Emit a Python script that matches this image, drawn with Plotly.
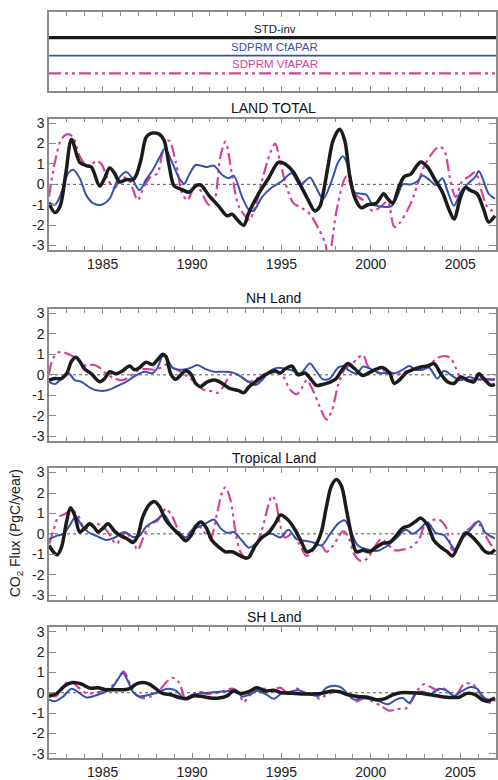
import plotly.graph_objects as go

# ---------------- data (years, CO2 flux PgC/yr) ----------------
# LAND TOTAL
lt_std_t = [1982.0,1982.33,1982.61,1982.95,1983.26,1983.72,1984.09,1984.37,1984.83,1985.11,1985.39,1985.67,1985.94,1986.31,1986.69,1986.87,1987.15,1987.43,1987.70,1988.17,1988.44,1988.72,1989.0,1989.37,1989.83,1990.2,1990.48,1990.94,1991.5,1991.96,1992.24,1992.52,1992.89,1993.17,1993.72,1994.28,1994.83,1995.2,1995.67,1996.13,1996.5,1996.87,1997.15,1997.33,1997.61,1997.89,1998.26,1998.54,1998.81,1999.09,1999.46,1999.83,2000.3,2000.72,2000.94,2001.22,2001.59,2001.87,2002.24,2002.52,2002.8,2003.17,2003.54,2004.0,2004.37,2004.65,2005.02,2005.3,2005.57,2005.94,2006.31,2006.59,2006.94]
lt_std_v = [-0.92,-1.38,-1.1,0.6,2.2,1.08,0.92,0.85,-0.08,0.3,0.8,0.54,0.12,0.23,0.23,0.43,1.23,2.3,2.5,2.46,2.15,0.92,-0.08,-0.23,-0.38,-0.08,-0.03,-0.54,-1.08,-1.54,-1.46,-1.72,-2.0,-1.4,-0.46,0.3,1.08,1.0,0.6,-0.15,-0.77,-1.3,-1.08,-0.46,0.92,2.15,2.7,2.15,0.46,-0.62,-1.15,-1.0,-0.92,-0.46,-0.7,-0.92,-0.08,0.38,0.5,0.85,1.1,0.85,0.3,-0.38,-1.23,-1.7,-0.62,-0.15,-0.3,-0.46,-1.23,-1.85,-1.54]
lt_cf_t = [1982.0,1982.33,1982.61,1983.07,1983.35,1983.72,1984.09,1984.46,1984.93,1985.39,1985.85,1986.31,1986.59,1987.06,1987.43,1987.8,1988.17,1988.48,1988.81,1989.28,1989.56,1989.83,1990.2,1990.48,1990.85,1991.22,1991.69,1992.06,1992.33,1992.8,1993.17,1993.44,1993.91,1994.46,1995.02,1995.57,1996.04,1996.59,1996.87,1997.33,1997.8,1998.17,1998.44,1998.72,1999.09,1999.46,1999.74,2000.11,2000.57,2001.13,2001.5,2001.78,2002.24,2002.61,2002.89,2003.26,2003.63,2004.0,2004.28,2004.65,2005.02,2005.39,2005.85,2006.04,2006.31,2006.59,2006.94]
lt_cf_v = [-0.9,-1.0,-0.6,0.54,0.72,0.3,-0.54,-0.92,-1.0,-0.7,0.23,0.6,0.38,-0.28,0.23,0.7,1.3,1.74,1.23,0.3,0.03,0.46,0.95,0.92,0.85,0.92,0.46,0.3,0.43,-0.62,-1.23,-1.3,-0.62,-0.15,0.15,0.54,-0.03,0.34,-0.03,-0.7,0.15,1.08,1.38,0.92,-0.38,-0.46,-0.5,-1.0,-1.08,-1.08,-0.54,0.0,0.0,0.15,0.43,0.23,-0.03,0.3,-0.3,-1.05,-0.38,0.0,0.38,0.65,0.15,-0.46,-0.7]
lt_vf_t = [1982.0,1982.33,1982.7,1983.07,1983.35,1983.72,1984.19,1984.65,1984.93,1985.3,1985.67,1986.04,1986.41,1986.69,1986.96,1987.33,1987.7,1988.07,1988.35,1988.72,1989.09,1989.46,1989.74,1990.2,1990.48,1990.94,1991.22,1991.59,1991.87,1992.24,1992.61,1992.98,1993.2,1993.54,1994.0,1994.37,1994.65,1994.93,1995.3,1995.67,1996.13,1996.59,1997.06,1997.45,1997.62,1997.8,1998.1,1998.63,1999.09,1999.56,2000.11,2000.57,2000.94,2001.31,2001.59,2002.24,2002.7,2003.0,2003.44,2003.81,2004.09,2004.46,2004.74,2005.11,2005.48,2005.85,2006.13,2006.5,2006.94]
lt_vf_v = [-0.6,1.08,2.23,2.46,2.3,1.38,0.85,1.15,1.0,0.23,-0.18,0.3,0.3,-0.23,-0.77,-0.08,0.38,0.54,1.54,2.15,1.08,-0.46,-0.77,0.0,-0.3,-1.0,-0.85,1.38,2.08,0.46,-1.08,-1.55,-1.75,-1.08,0.46,1.54,2.0,1.08,-0.15,-0.92,-1.15,-1.46,-2.15,-2.9,-3.7,-3.0,-1.2,0.38,-0.46,-0.77,-1.3,-1.08,-0.85,-2.08,-1.92,-0.92,0.23,0.92,1.54,1.85,1.69,0.15,-0.62,0.15,0.38,0.58,-0.15,-1.08,-1.38]

# NH Land
nh_std_t = [1982.0,1982.33,1982.7,1982.98,1983.26,1983.5,1983.72,1984.0,1984.37,1984.83,1985.11,1985.39,1985.76,1986.13,1986.5,1986.78,1987.06,1987.43,1987.8,1988.07,1988.35,1988.54,1988.81,1989.09,1989.37,1989.65,1989.93,1990.2,1990.48,1990.85,1991.31,1991.69,1992.06,1992.61,1992.89,1993.17,1993.54,1993.91,1994.28,1994.65,1994.93,1995.2,1995.57,1995.94,1996.31,1996.69,1996.96,1997.33,1997.7,1998.07,1998.35,1998.72,1999.09,1999.56,1999.93,2000.3,2000.67,2001.04,2001.31,2001.59,2001.96,2002.33,2002.8,2003.17,2003.54,2003.91,2004.28,2004.65,2005.02,2005.39,2005.76,2006.04,2006.31,2006.69,2006.94]
nh_std_v = [-0.26,-0.18,-0.18,0.05,0.66,0.86,0.66,0.28,0.05,-0.34,-0.18,0.15,0.05,0.2,0.43,0.25,0.35,0.62,0.5,0.74,1.0,0.9,0.05,-0.22,0.0,0.2,0.05,-0.42,-0.57,-0.34,-0.26,-0.42,-0.65,-0.77,-0.88,-0.6,-0.34,-0.1,0.09,0.2,0.09,0.28,0.43,0.0,0.09,-0.26,-0.52,-0.46,-0.37,-0.18,0.2,0.55,0.3,-0.03,0.12,0.28,0.35,0.09,-0.42,-0.26,0.09,0.25,0.38,0.43,0.55,0.05,-0.34,-0.42,-0.1,-0.26,-0.34,0.05,-0.18,-0.5,-0.46]
nh_cf_t = [1982.0,1982.33,1982.7,1983.07,1983.44,1983.81,1984.28,1984.74,1985.2,1985.76,1986.31,1986.87,1987.33,1987.8,1988.07,1988.35,1988.54,1988.91,1989.28,1989.65,1989.93,1990.3,1990.76,1991.22,1991.69,1992.24,1992.61,1993.17,1993.54,1993.91,1994.37,1994.83,1995.3,1995.67,1996.04,1996.59,1996.87,1997.33,1997.7,1998.17,1998.44,1998.81,1999.19,1999.56,2000.02,2000.48,2000.94,2001.41,2001.78,2002.15,2002.52,2002.89,2003.26,2003.72,2004.09,2004.56,2005.02,2005.48,2005.94,2006.5,2006.94]
nh_cf_v = [-0.34,-0.45,-0.18,0.09,-0.26,-0.34,-0.62,-0.77,-0.77,-0.57,-0.34,-0.03,0.15,0.09,0.35,0.9,0.86,0.35,0.25,0.28,0.35,0.48,0.28,0.15,0.15,0.12,-0.03,-0.34,-0.5,-0.26,0.2,0.35,0.28,0.2,0.05,0.55,0.28,-0.22,-0.18,0.35,0.43,0.2,0.05,0.4,0.28,0.09,0.09,0.09,0.25,0.43,0.25,0.25,0.35,-0.18,0.2,-0.06,-0.26,-0.1,-0.22,-0.23,-0.23]
nh_vf_t = [1982.0,1982.24,1982.61,1982.98,1983.35,1983.72,1984.09,1984.46,1984.83,1985.2,1985.67,1986.13,1986.59,1987.06,1987.52,1987.89,1988.26,1988.54,1988.91,1989.28,1989.65,1990.02,1990.39,1990.76,1991.13,1991.41,1991.69,1992.06,1992.24,1992.61,1993.17,1993.54,1993.91,1994.28,1994.74,1995.11,1995.48,1995.85,1996.13,1996.41,1996.78,1997.15,1997.52,1997.8,1998.17,1998.54,1998.91,1999.28,1999.56,1999.83,2000.2,2000.57,2000.94,2001.41,2001.87,2002.33,2002.8,2003.26,2003.72,2004.09,2004.46,2004.74,2005.02,2005.48,2005.94,2006.5,2006.94]
nh_vf_v = [0.05,0.82,1.12,1.05,0.9,0.66,0.43,0.5,0.35,0.05,-0.18,-0.26,-0.03,0.25,0.28,0.25,0.35,0.5,0.35,0.2,-0.03,-0.26,-0.57,-0.77,-0.8,-0.88,-0.65,-0.1,0.05,0.0,-0.34,-0.22,-0.03,0.09,0.12,-0.1,-0.72,-0.95,-0.65,-0.26,-0.8,-1.57,-2.18,-1.8,-0.5,0.28,0.5,0.82,0.97,0.43,0.05,0.2,0.2,0.0,0.15,0.25,0.35,0.5,0.82,0.92,0.82,0.35,-0.1,-0.18,-0.22,-0.22,-0.23]

# Tropical Land
tr_std_t = [1982.0,1982.24,1982.46,1982.7,1982.98,1983.2,1983.44,1983.72,1984.0,1984.28,1984.56,1984.74,1985.02,1985.3,1985.67,1986.04,1986.41,1986.69,1986.96,1987.24,1987.61,1987.89,1988.17,1988.54,1988.91,1989.28,1989.65,1989.93,1990.2,1990.48,1990.76,1991.13,1991.5,1991.87,1992.24,1992.61,1992.98,1993.17,1993.54,1993.91,1994.28,1994.65,1994.96,1995.39,1995.76,1996.13,1996.41,1996.69,1996.96,1997.24,1997.52,1997.8,1998.07,1998.35,1998.63,1998.91,1999.19,1999.56,1999.93,2000.2,2000.67,2001.04,2001.41,2001.78,2002.15,2002.52,2002.8,2003.17,2003.54,2003.91,2004.28,2004.56,2004.93,2005.3,2005.67,2006.04,2006.41,2006.69,2006.94]
tr_std_v = [-0.57,-0.88,-1.03,-0.65,0.58,1.28,0.9,0.09,0.28,0.5,0.28,0.09,0.28,0.5,0.12,-0.1,-0.26,-0.42,-0.1,0.82,1.43,1.58,1.35,0.66,0.28,-0.03,-0.34,-0.1,0.35,0.58,0.35,-0.34,-0.65,-0.88,-0.88,-1.03,-1.18,-1.15,-0.57,-0.18,0.05,0.5,0.92,0.66,0.2,-0.42,-0.88,-0.8,-0.5,0.12,1.35,2.35,2.66,2.35,1.2,-0.03,-0.88,-0.8,-0.88,-0.72,-0.46,-0.42,-0.1,0.28,0.4,0.62,0.77,0.43,-0.34,-0.65,-0.88,-1.08,-0.5,0.05,-0.15,-0.5,-0.88,-0.95,-0.77]
tr_cf_t = [1982.0,1982.43,1982.8,1983.17,1983.5,1983.81,1984.19,1984.65,1985.2,1985.67,1986.22,1986.69,1987.06,1987.43,1987.98,1988.44,1988.91,1989.28,1989.65,1990.02,1990.39,1990.85,1991.22,1991.59,1991.96,1992.33,1992.8,1993.17,1993.54,1994.0,1994.46,1994.93,1995.39,1995.85,1996.31,1996.78,1997.24,1997.7,1998.17,1998.54,1998.91,1999.28,1999.83,2000.39,2000.94,2001.5,2001.96,2002.33,2002.7,2003.17,2003.63,2004.09,2004.46,2004.74,2005.11,2005.57,2006.04,2006.41,2006.94]
tr_cf_v = [-0.26,-0.1,0.0,0.43,0.85,0.43,0.09,-0.1,-0.3,-0.18,0.09,-0.15,-0.1,0.35,0.66,0.92,0.3,0.05,-0.18,0.2,0.35,0.55,0.7,0.28,0.05,0.09,-0.34,-0.68,-0.5,-0.1,0.0,-0.18,0.2,-0.26,-0.34,-0.42,-0.57,-0.03,0.5,0.66,0.05,-0.57,-0.77,-0.83,-0.57,-0.15,0.2,0.0,0.2,0.55,0.05,-0.06,-0.5,-0.8,-0.26,0.2,0.62,0.05,-0.22]
tr_vf_t = [1982.0,1982.24,1982.52,1982.89,1983.26,1983.63,1984.0,1984.28,1984.65,1985.02,1985.39,1985.76,1986.04,1986.31,1986.69,1986.96,1987.24,1987.61,1988.07,1988.54,1988.91,1989.28,1989.56,1989.93,1990.3,1990.67,1991.04,1991.41,1991.69,1991.87,1992.15,1992.43,1992.7,1993.1,1993.54,1993.91,1994.28,1994.46,1994.65,1994.93,1995.2,1995.57,1995.94,1996.41,1996.78,1997.15,1997.52,1997.89,1998.17,1998.44,1998.72,1999.09,1999.46,1999.83,2000.2,2000.57,2000.94,2001.31,2001.78,2002.24,2002.7,2002.98,2003.44,2003.81,2004.19,2004.56,2004.83,2005.2,2005.57,2005.94,2006.31,2006.69,2006.94]
tr_vf_v = [-0.5,0.12,0.82,0.97,1.17,0.9,0.2,0.43,0.5,0.35,-0.03,-0.5,-0.18,0.05,-0.34,-0.8,-0.26,0.43,0.66,1.23,0.82,0.09,-0.18,0.12,0.46,0.09,-0.18,1.05,2.05,2.28,1.66,0.12,-0.88,-1.24,-0.65,0.2,1.43,1.85,1.66,0.43,-0.18,-0.03,-0.42,-1.08,-0.8,-0.46,-0.88,-0.57,-0.18,0.12,-0.1,-1.03,-1.34,-1.18,-0.65,-0.26,-0.5,-0.8,-0.77,-0.65,-0.26,0.35,0.66,0.7,0.35,-0.8,-0.65,0.05,0.3,0.58,0.09,-0.5,-0.72]

# SH Land
sh_std_t = [1982.0,1982.43,1982.89,1983.35,1983.81,1984.28,1984.74,1985.2,1985.67,1986.13,1986.5,1986.87,1987.24,1987.61,1987.98,1988.35,1988.81,1989.28,1989.65,1990.11,1990.57,1991.04,1991.5,1991.96,1992.33,1992.7,1993.17,1993.63,1994.09,1994.56,1995.02,1995.57,1996.13,1996.69,1997.24,1997.8,1998.26,1998.72,1999.28,1999.83,2000.3,2000.76,2001.22,2001.69,2002.24,2002.8,2003.35,2003.91,2004.46,2004.93,2005.39,2005.85,2006.22,2006.5,2006.94]
sh_std_v = [-0.18,-0.03,0.35,0.5,0.43,0.23,0.25,0.15,0.15,0.15,0.2,0.43,0.5,0.43,0.2,-0.03,-0.1,-0.23,-0.3,-0.15,-0.18,-0.26,-0.26,-0.15,0.09,-0.03,0.05,0.25,0.09,0.12,0.0,-0.03,-0.06,-0.06,-0.03,0.09,0.05,-0.1,-0.18,-0.22,-0.34,-0.3,-0.1,0.0,0.0,-0.03,-0.1,-0.18,-0.23,-0.22,-0.03,-0.1,-0.34,-0.42,-0.26]
sh_cf_t = [1982.0,1982.33,1982.8,1983.26,1983.72,1984.09,1984.56,1985.02,1985.48,1985.85,1986.13,1986.41,1986.69,1987.06,1987.61,1988.17,1988.63,1989.09,1989.56,1990.02,1990.48,1990.94,1991.5,1992.06,1992.43,1992.8,1993.17,1993.63,1994.19,1994.56,1995.02,1995.48,1995.94,1996.5,1997.06,1997.52,1997.98,1998.35,1998.72,1999.09,1999.56,2000.02,2000.48,2000.94,2001.41,2001.78,2002.15,2002.52,2002.89,2003.35,2003.81,2004.28,2004.65,2005.11,2005.57,2005.94,2006.31,2006.59,2006.94]
sh_cf_v = [-0.34,-0.42,-0.18,0.2,-0.03,-0.23,-0.15,0.0,0.2,0.66,0.97,0.58,0.05,-0.18,-0.1,0.05,0.2,0.12,-0.26,-0.1,-0.03,0.0,0.05,0.09,0.15,-0.18,-0.1,0.09,-0.1,-0.3,-0.03,0.05,0.12,-0.06,-0.15,0.25,0.35,0.25,-0.06,-0.34,-0.26,-0.34,-0.42,-0.57,-0.34,-0.26,-0.5,0.0,0.05,-0.06,0.2,0.09,-0.15,0.09,0.28,0.2,-0.22,-0.34,-0.26]
sh_vf_t = [1982.0,1982.33,1982.7,1982.98,1983.26,1983.63,1984.09,1984.56,1985.02,1985.48,1985.85,1986.17,1986.5,1986.87,1987.24,1987.7,1988.17,1988.54,1988.91,1989.28,1989.65,1990.02,1990.39,1990.85,1991.31,1991.78,1992.24,1992.61,1992.89,1993.17,1993.54,1994.0,1994.46,1994.93,1995.39,1995.85,1996.31,1996.78,1997.15,1997.52,1997.98,1998.44,1998.81,1999.19,1999.65,2000.11,2000.57,2001.04,2001.5,2001.96,2002.33,2002.61,2002.98,2003.35,2003.72,2004.09,2004.46,2004.83,2005.2,2005.67,2006.04,2006.41,2006.78,2006.94]
sh_vf_v = [0.0,-0.18,0.12,0.5,0.54,0.28,-0.03,0.0,0.09,0.3,0.66,1.05,0.5,-0.1,-0.26,-0.18,0.12,0.5,0.74,0.5,-0.34,-0.1,0.05,-0.06,-0.03,0.09,0.2,-0.03,-0.46,-0.18,0.09,0.2,0.12,0.25,-0.03,0.2,0.0,-0.1,-0.3,-0.1,0.05,0.05,-0.18,-0.42,-0.26,-0.42,-0.65,-0.88,-0.8,-0.77,-0.34,0.12,0.43,0.28,0.12,0.2,-0.03,-0.03,0.43,0.43,0.05,-0.42,-0.5,-0.34]

panel_titles = ["LAND TOTAL", "NH Land", "Tropical Land", "SH Land"]
series_names = ["STD-inv", "SDPRM CfAPAR", "SDPRM VfAPAR"]
y_ticks = [-3, -2, -1, 0, 1, 2, 3]
y_tick_text = ["-3", "-2", "-1", "0", "1", "2", "3"]
x_range = [1982, 2007]

panels = [
    (lt_std_t, lt_std_v, lt_cf_t, lt_cf_v, lt_vf_t, lt_vf_v),
    (nh_std_t, nh_std_v, nh_cf_t, nh_cf_v, nh_vf_t, nh_vf_v),
    (tr_std_t, tr_std_v, tr_cf_t, tr_cf_v, tr_vf_t, tr_vf_v),
    (sh_std_t, sh_std_v, sh_cf_t, sh_cf_v, sh_vf_t, sh_vf_v),
]

# ---------------- styling ----------------
W, H = 498, 780
FONT = "Liberation Sans, Arial, Helvetica, sans-serif"
AX = "#8a8a8a"
C_BLACK = "#1b1b1b"
C_BLUE = "#3553ad"
C_MAG = "#d5419a"
MAG_DASH = "12px,4px,3px,4px,3px,4px"

def ydom(top, bottom):
    return [1 - bottom / H, 1 - top / H]

legend_box = (8, 88)
panel_pix = [(115.7, 248.3), (307.7, 440.7), (468.3, 601.0), (629.0, 761.0)]
title_pix = [105, 297, 458, 618.5]
show_xlabels = [True, False, False, True]

fig = go.Figure()

def xaxis_cfg(show_labels, anchor):
    return dict(range=x_range, showgrid=False, zeroline=False, showline=True,
                linecolor=AX, linewidth=1.5, mirror="allticks",
                ticks="inside", ticklen=5, tickwidth=1, tickcolor=AX,
                tick0=1985, dtick=5,
                minor=dict(dtick=1, ticks="inside", ticklen=4, tickcolor=AX, tickwidth=1, showgrid=False),
                showticklabels=show_labels, tickfont=dict(size=14, color="#222", family=FONT),
                anchor=anchor, domain=[0, 1])

layout = dict(
    width=W, height=H, margin=dict(l=49, r=0, t=0, b=0),
    paper_bgcolor="white", plot_bgcolor="white", showlegend=False,
    font=dict(family=FONT, color="#222"),
)

# legend box axes (y in box fraction)
layout["xaxis"] = xaxis_cfg(False, "y")
layout["yaxis"] = dict(range=[0, 1], domain=ydom(*legend_box), showgrid=False, zeroline=False,
                       showline=True, linecolor=AX, linewidth=1.5, mirror=True,
                       ticks="", showticklabels=False, anchor="x")

shapes = []
annotations = []

# legend box content
leg_text_pix = [25, 43, 61]
leg_line_pix = [34, 52, 70]
leg_colors = [C_BLACK, C_BLUE, C_MAG]
leg_text_colors = ["#222", "#4050a8", "#d5419a"]
leg_widths = [3.2, 1.8, 2.4]
leg_dash = ["solid", "solid", MAG_DASH]
box_top, box_bot = legend_box
for name, tp, lp, c, tc, w, d in zip(series_names, leg_text_pix, leg_line_pix, leg_colors,
                                      leg_text_colors, leg_widths, leg_dash):
    frac = (box_bot - lp) / (box_bot - box_top)
    fig.add_trace(go.Scatter(x=x_range, y=[frac, frac], mode="lines", xaxis="x", yaxis="y",
                             line=dict(color=c, width=w, dash=d), hoverinfo="skip", cliponaxis=False))
    annotations.append(dict(text=name, xref="paper", yref="paper", x=0.505, y=1 - tp / H,
                            xanchor="center", yanchor="middle", showarrow=False,
                            font=dict(size=11.5, color=tc, family=FONT)))

for i, (pt, title) in enumerate(zip(panel_pix, panel_titles)):
    k = i + 2
    xa, ya = f"x{k}", f"y{k}"
    layout[f"xaxis{k}"] = xaxis_cfg(show_xlabels[i], ya)
    layout[f"yaxis{k}"] = dict(range=[-3.22, 3.22], domain=ydom(*pt), showgrid=False, zeroline=False,
                               showline=True, linecolor=AX, linewidth=1.5, mirror="ticks",
                               ticks="inside", ticklen=7, tickwidth=1, tickcolor=AX,
                               tickvals=y_ticks, ticktext=y_tick_text,
                               tickfont=dict(size=14, color="#222", family=FONT), anchor=xa)
    st, sv, ct, cv, vt, vv = panels[i]
    fig.add_trace(go.Scatter(x=vt, y=vv, mode="lines", xaxis=xa, yaxis=ya, name=series_names[2],
                             line=dict(color=C_MAG, width=2.2, dash=MAG_DASH, shape="spline", smoothing=0.9)))
    fig.add_trace(go.Scatter(x=ct, y=cv, mode="lines", xaxis=xa, yaxis=ya, name=series_names[1],
                             line=dict(color=C_BLUE, width=2, shape="spline", smoothing=0.9)))
    fig.add_trace(go.Scatter(x=st, y=sv, mode="lines", xaxis=xa, yaxis=ya, name=series_names[0],
                             line=dict(color=C_BLACK, width=3.5, shape="spline", smoothing=0.9)))
    shapes.append(dict(type="line", xref=f"{xa} domain", yref=ya, x0=0, x1=1, y0=0, y1=0,
                       line=dict(color="#555", width=1, dash="3px,3px"), layer="below"))
    annotations.append(dict(text=title, xref="paper", yref="paper", x=0.503, y=1 - title_pix[i] / H,
                            xanchor="center", yanchor="middle", showarrow=False,
                            font=dict(size=14, color="#111", family=FONT)))

annotations.append(dict(text="CO<sub>2</sub> Flux (PgC/year)", xref="paper", yref="paper",
                        x=(16 - 49) / (W - 49), y=1 - 534 / H, textangle=-90,
                        xanchor="center", yanchor="middle", showarrow=False,
                        font=dict(size=14, color="#222", family=FONT)))

layout["shapes"] = shapes
layout["annotations"] = annotations
fig.update_layout(**layout)

fig.write_html("out.html", config={"displayModeBar": False},
               post_script="document.body.style.margin='0';")
